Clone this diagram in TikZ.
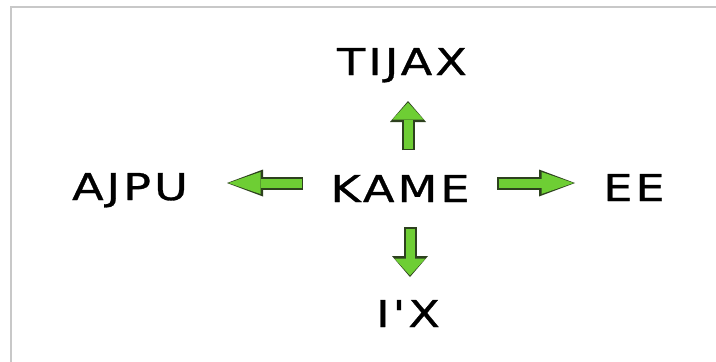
\documentclass[tikz,border=0pt]{standalone}
\usepackage{fontspec}
\newfontfamily\lblfont[FakeStretch=1.25,LetterSpace=8,FakeBold=0.8]{DejaVu Sans}
\usetikzlibrary{arrows.meta}
\definecolor{framegray}{RGB}{200,200,200}
\definecolor{arrgreen}{RGB}{110,206,52}
\definecolor{arredge}{RGB}{45,65,30}
\begin{document}
\begin{tikzpicture}[x=1pt,y=-1pt,
  lbl/.style={font=\lblfont\fontsize{37}{40}\selectfont, anchor=base, inner sep=0pt, text=black},
  vout/.style={line width=13pt, draw=arredge, -{Triangle[length=21pt,width=36pt,line width=0pt]}},
  vin/.style={line width=9pt, draw=arrgreen, shorten >=1.5pt, shorten <=1.5pt, -{Triangle[length=17pt,width=31pt,line width=0pt]}},
  hout/.style={line width=13pt, draw=arredge, -{Triangle[length=36pt,width=27pt,line width=0pt]}},
  hin/.style={line width=9pt, draw=arrgreen, shorten >=1.5pt, shorten <=1.5pt, -{Triangle[length=32pt,width=22pt,line width=0pt]}}
]
\useasboundingbox (0,0) rectangle (716,362);
\fill[white] (0,0) rectangle (716,362);
\draw[framegray, line width=2.5pt] (11,362) -- (11,7) -- (716,7);

\node[lbl] (kame) at (400,202) {KAME};
\node[lbl] (tijax) at (402,75) {TIJAX};
\node[lbl] (ajpu) at (130,200) {AJPU};
\node[lbl] (ee) at (634,201) {EE};
\node[lbl] (ix) at (408,327) {I'X};

\coordinate (upT) at (408,150);
\coordinate (upH) at (408,101);
\coordinate (dnT) at (410,227);
\coordinate (dnH) at (410,277);
\coordinate (lfT) at (303,183);
\coordinate (lfH) at (227,183);
\coordinate (rtT) at (497,183);
\coordinate (rtH) at (575,183);

\draw[vout] (upT) -- (upH);
\draw[vin]  (upT) -- (upH);
\draw[vout] (dnT) -- (dnH);
\draw[vin]  (dnT) -- (dnH);
\draw[hout] (lfT) -- (lfH);
\draw[hin]  (lfT) -- (lfH);
\draw[hout] (rtT) -- (rtH);
\draw[hin]  (rtT) -- (rtH);
\end{tikzpicture}
\end{document}
